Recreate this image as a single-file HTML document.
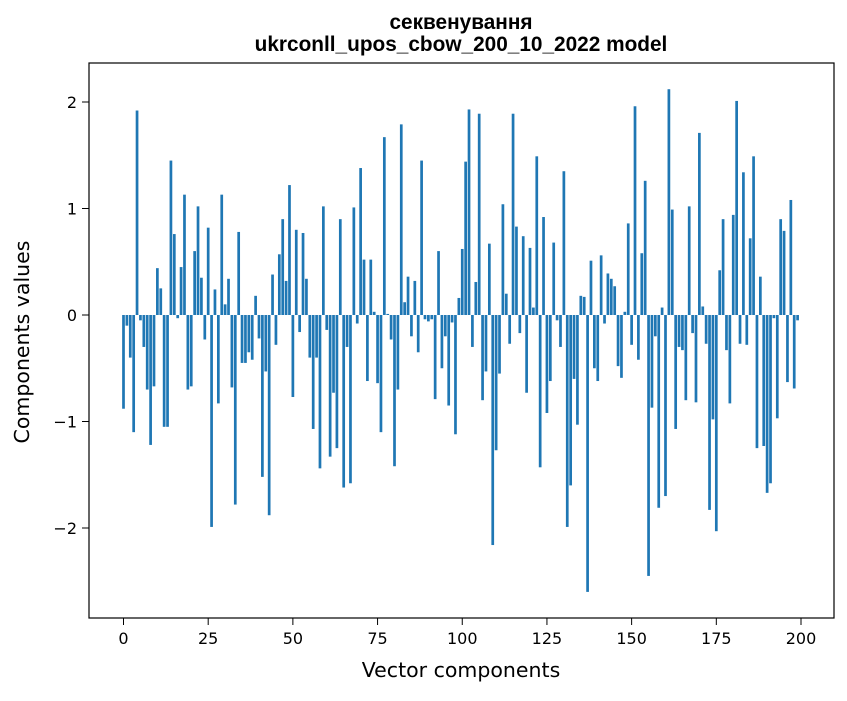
<!DOCTYPE html>
<html><head><meta charset="utf-8"><style>
body{margin:0;background:#fff;}
svg text{font-family:"DejaVu Sans","Liberation Sans",sans-serif;fill:#000;}
svg text.t{font-family:"Liberation Sans","DejaVu Sans",sans-serif;}
</style></head><body>
<svg id="chart" width="847" height="696" xmlns="http://www.w3.org/2000/svg">
<text class="t" x="461" y="29" font-size="20.8" font-weight="bold" text-anchor="middle">секвенування</text>
<text class="t" x="461" y="51" font-size="20.8" font-weight="bold" text-anchor="middle">ukrconll_upos_cbow_200_10_2022 model</text>
<g id="bars"></g>
<rect x="89" y="63" width="745" height="555" fill="none" stroke="#000" stroke-width="1.2"/>
<g id="xt"></g>
<g id="yt"></g>
<text x="461" y="677" font-size="20.5" text-anchor="middle">Vector components</text>
<text transform="translate(29,342) rotate(-90)" font-size="20.5" text-anchor="middle">Components values</text>
</svg>
<script>
const values=[-0.88,-0.1,-0.4,-1.1,1.92,-0.05,-0.3,-0.7,-1.22,-0.67,0.44,0.25,-1.05,-1.05,1.45,0.76,-0.03,0.45,1.13,-0.7,
-0.67,0.6,1.02,0.35,-0.23,0.82,-1.99,0.24,-0.83,1.13,0.1,0.34,-0.68,-1.78,0.78,-0.45,-0.45,-0.35,-0.42,0.18,
-0.22,-1.52,-0.53,-1.88,0.38,-0.28,0.57,0.9,0.32,1.22,-0.77,0.8,-0.16,0.77,0.34,-0.4,-1.07,-0.4,-1.44,1.02,
-0.14,-1.33,-0.73,-1.25,0.9,-1.62,-0.3,-1.58,1.01,-0.08,1.38,0.52,-0.62,0.52,0.03,-0.64,-1.1,1.67,0.01,-0.23,
-1.42,-0.7,1.79,0.12,0.36,-0.2,0.32,-0.35,1.45,-0.04,-0.06,-0.04,-0.79,0.6,-0.5,-0.2,-0.85,-0.07,-1.12,0.16,
0.62,1.44,1.93,-0.3,0.31,1.89,-0.8,-0.53,0.67,-2.16,-1.27,-0.55,1.04,0.2,-0.27,1.89,0.83,-0.17,0.74,-0.73,
0.63,0.07,1.49,-1.43,0.92,-0.92,-0.62,0.68,-0.05,-0.3,1.35,-1.99,-1.6,-0.6,-1.03,0.18,0.17,-2.6,0.51,-0.5,
-0.62,0.56,-0.08,0.39,0.34,0.27,-0.48,-0.59,0.03,0.86,-0.28,1.96,-0.42,0.58,1.26,-2.45,-0.87,-0.2,-1.81,0.07,
-1.7,2.12,0.99,-1.07,-0.3,-0.33,-0.8,1.02,-0.17,-0.82,1.71,0.08,-0.27,-1.83,-0.98,-2.03,0.42,0.9,-0.33,-0.83,
0.94,2.01,-0.27,1.34,-0.28,0.72,1.49,-1.25,0.36,-1.23,-1.67,-1.58,-0.03,-0.97,0.9,0.79,-0.63,1.08,-0.69,-0.05];
const xTicks=[0,25,50,75,100,125,150,175,200];
const yTicks=[-2,-1,0,1,2];
const NS="http://www.w3.org/2000/svg";
const xs=v=>123.5+v*(801-123.5)/200;
const ys=v=>315-v*106.5;
const bars=document.getElementById('bars');
values.forEach((v,i)=>{
 const r=document.createElementNS(NS,'rect');
 
 
 const w=0.8*(801-123.5)/200;
 r.setAttribute('x',xs(i)-w/2);r.setAttribute('width',w);
 r.setAttribute('y',Math.min(ys(v),ys(0)));r.setAttribute('height',Math.abs(ys(v)-ys(0)));
 r.setAttribute('fill','#1f77b4');bars.appendChild(r);
});
const xt=document.getElementById('xt');
xTicks.forEach(t=>{
 const l=document.createElementNS(NS,'line');
 
 
 l.setAttribute('x1',xs(t));l.setAttribute('x2',xs(t));l.setAttribute('y1',618);l.setAttribute('y2',625);l.setAttribute('stroke','#000');xt.appendChild(l);
 const s=document.createElementNS(NS,'text');
 
 
 s.setAttribute('x',xs(t));s.setAttribute('y',644);s.setAttribute('font-size','16');s.setAttribute('text-anchor','middle');s.textContent=t;xt.appendChild(s);
});
const yt=document.getElementById('yt');
yTicks.forEach(t=>{
 const l=document.createElementNS(NS,'line');
 
 
 l.setAttribute('x1',82);l.setAttribute('x2',89);l.setAttribute('y1',ys(t));l.setAttribute('y2',ys(t));l.setAttribute('stroke','#000');yt.appendChild(l);
 const s=document.createElementNS(NS,'text');
 
 
 s.setAttribute('x',77);s.setAttribute('y',ys(t)+6);s.setAttribute('font-size','16');s.setAttribute('text-anchor','end');s.textContent=t<0?'\u2212'+Math.abs(t):t;yt.appendChild(s);
});
</script>
</body></html>
